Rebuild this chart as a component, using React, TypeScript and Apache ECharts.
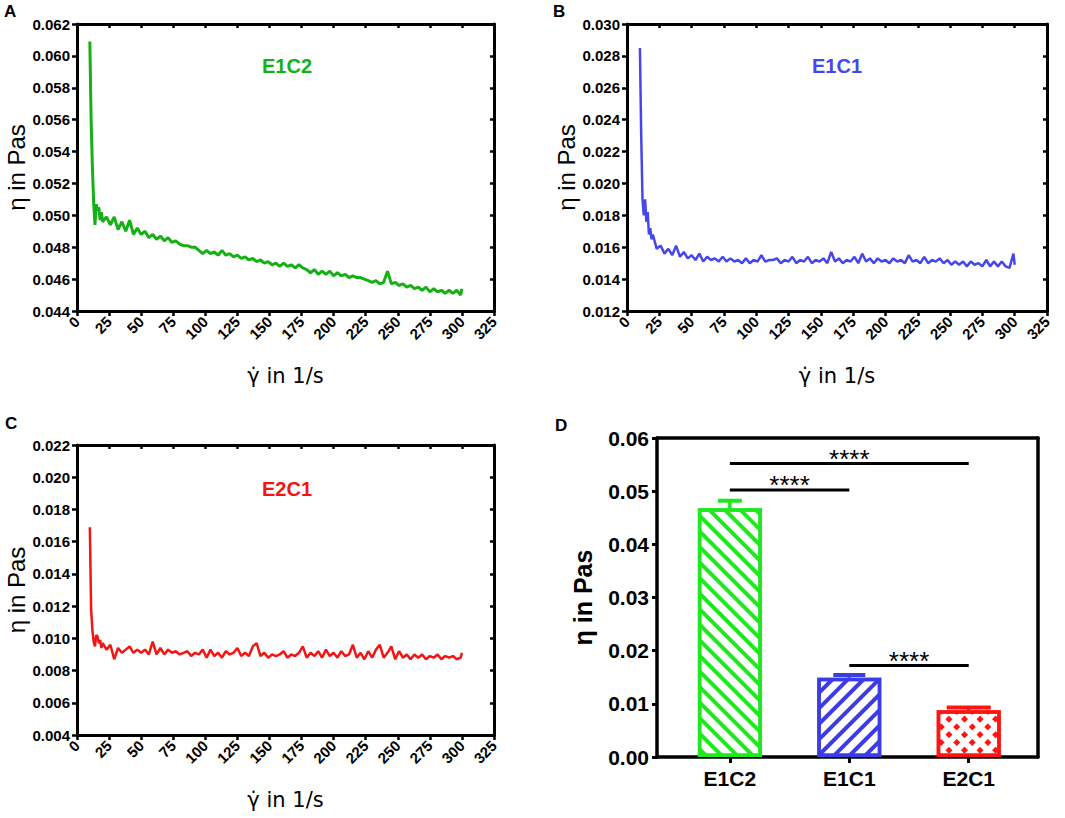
import { useEffect, useRef } from "react";
import * as echarts from "echarts";

// ---------- data ----------
const shearRate = [
  10, 11, 12, 13, 14, 15, 16, 17, 18, 19, 20,
  23, 26, 29, 32, 35, 38, 41, 44, 47, 50,
  53, 56, 59, 62, 65, 68, 71, 74, 77, 80,
  83, 86, 89, 92, 95, 98, 101, 104, 107, 110,
  113, 116, 119, 122, 125, 128, 131, 134, 137, 140,
  143, 146, 149, 152, 155, 158, 161, 164, 167, 170,
  173, 176, 179, 182, 185, 188, 191, 194, 197, 200,
  203, 206, 209, 212, 215, 218, 221, 224, 227, 230,
  233, 236, 239, 242, 245, 248, 251, 254, 257, 260,
  263, 266, 269, 272, 275, 278, 281, 284, 287, 290,
  293, 296, 299, 300,
];

const viscE1C2 = [
  0.0609, 0.056, 0.053, 0.0508, 0.0494, 0.0507, 0.0503, 0.0505, 0.0497, 0.0502, 0.0496,
  0.0499, 0.0494, 0.0499, 0.0491, 0.0496, 0.049, 0.0497, 0.0488, 0.0492, 0.0488,
  0.049, 0.0486, 0.0488, 0.0485, 0.0487, 0.0484, 0.0486, 0.0483, 0.0484, 0.0482,
  0.0481, 0.0481, 0.048, 0.048, 0.0478, 0.0476, 0.0478, 0.0476, 0.0477, 0.0475,
  0.0478, 0.0475, 0.0476, 0.0474, 0.0475, 0.0473, 0.0474, 0.0472, 0.0473, 0.0471,
  0.0472, 0.047, 0.0471, 0.0469, 0.047, 0.0468, 0.047, 0.0468, 0.0469, 0.0467,
  0.0469, 0.0467, 0.0466, 0.0464, 0.0466, 0.0463, 0.0465, 0.0463, 0.0465, 0.0462,
  0.0464, 0.0462, 0.0463, 0.0461, 0.0462, 0.0461, 0.0461, 0.046, 0.0459, 0.0458,
  0.0459, 0.0457, 0.0458, 0.0465, 0.0457, 0.0458, 0.0456, 0.0457, 0.0455, 0.0456,
  0.0454, 0.0455, 0.0453, 0.0455, 0.0452, 0.0454, 0.0452, 0.0453, 0.0451, 0.0453,
  0.0451, 0.0453, 0.045, 0.0454,
];

const viscE1C1 = [
  0.0285, 0.023, 0.019, 0.018, 0.019, 0.0176, 0.0182, 0.0168, 0.0172, 0.0165, 0.0168,
  0.0159, 0.0161, 0.0156, 0.0159, 0.0155, 0.0161, 0.0154, 0.0157, 0.0153, 0.0155,
  0.0152, 0.0156, 0.0151, 0.0154, 0.0152, 0.0153, 0.0151, 0.0154, 0.0151, 0.0153,
  0.0151, 0.0152, 0.015, 0.0153, 0.015, 0.0152, 0.0151, 0.0155, 0.0151, 0.0152,
  0.0152, 0.0153, 0.015, 0.0152, 0.0151, 0.0154, 0.015, 0.0152, 0.0151, 0.0154,
  0.015, 0.0152, 0.0151, 0.0153, 0.015, 0.0157, 0.0151, 0.0153, 0.015, 0.0152,
  0.0151, 0.0154, 0.015, 0.0156, 0.0151, 0.0153, 0.015, 0.0153, 0.0151, 0.0152,
  0.015, 0.0153, 0.0151, 0.0152, 0.015, 0.0155, 0.0151, 0.0152, 0.015, 0.0154,
  0.015, 0.0152, 0.0151, 0.0153, 0.015, 0.0152, 0.0149, 0.0151, 0.0149, 0.0151,
  0.0148, 0.0151, 0.0149, 0.015, 0.0148, 0.0152, 0.0148, 0.0151, 0.0148, 0.0151,
  0.0148, 0.0147, 0.0156, 0.0149,
];

const viscE2C1 = [
  0.0169, 0.0118, 0.0105, 0.0098, 0.0095, 0.0102, 0.0101, 0.0097, 0.0099, 0.0094, 0.0097,
  0.0093, 0.0096, 0.0087, 0.0094, 0.0091, 0.0093, 0.0095, 0.0091, 0.0093, 0.0091,
  0.0093, 0.009, 0.0098, 0.009, 0.0094, 0.009, 0.0093, 0.0091, 0.0092, 0.009,
  0.0091, 0.0092, 0.0089, 0.0091, 0.009, 0.0093, 0.0088, 0.0093, 0.0089, 0.0091,
  0.0088, 0.0092, 0.009, 0.0091, 0.0094, 0.0089, 0.0091, 0.0089, 0.0095, 0.0097,
  0.0089, 0.0091, 0.0088, 0.009, 0.0089, 0.009, 0.0092, 0.0088, 0.009, 0.0089,
  0.0091, 0.0095, 0.0088, 0.0091, 0.0089, 0.0092, 0.0088, 0.0093, 0.0089, 0.0091,
  0.0088, 0.0092, 0.0089, 0.009, 0.0096, 0.0088, 0.0091, 0.0087, 0.0092, 0.0088,
  0.0093, 0.0096, 0.0088, 0.0091, 0.0095, 0.0087, 0.0092, 0.0088, 0.009, 0.0087,
  0.009, 0.0088, 0.009, 0.0087, 0.0089, 0.0088, 0.009, 0.0087, 0.0089, 0.0088,
  0.0089, 0.0087, 0.0088, 0.0091,
];

const xRange = [0, 325];
const xStep = 25;
const yRangeA = [0.044, 0.062];
const yRangeB = [0.012, 0.03];
const yRangeC = [0.004, 0.022];
const yStepLine = 0.002;

const barCategories = ["E1C2", "E1C1", "E2C1"];
const barMeans = [0.0468, 0.0149, 0.0088];
const barErrors = [0.0014, 0.0005, 0.0005];
const barRange = [0, 0.06];
const barStep = 0.01;

// significance brackets: [from category #, to category #, height]
const sigFrom = [1, 1, 2];
const sigTo = [2, 3, 3];
const sigHeight = [0.0502, 0.0552, 0.0172];
const sigLabel = ["****", "****", "****"];

// ---------- styles ----------
const FONT = "'Liberation Sans', Arial, Helvetica, sans-serif";
const GAMMA_FONT = "'DejaVu Sans', sans-serif";
const lineColors = ["#14b014", "#4646ec", "#f41414"];
const barColors = ["#1ee81e", "#3c3ce6", "#ff1414"];
const capWidths = [24, 32, 44];
const barDecals = [
  { symbol: "rect", symbolSize: 1, dashArrayX: [1, 0], dashArrayY: [4, 7], rotation: Math.PI / 4, color: barColors[0] },
  { symbol: "rect", symbolSize: 1, dashArrayX: [1, 0], dashArrayY: [4, 7], rotation: -Math.PI / 4, color: barColors[1] },
  { symbol: "rect", symbolSize: 1, dashArrayX: [5, 6], dashArrayY: [5, 6], rotation: Math.PI / 4, color: barColors[2] },
];

function lineAxes(gi: number, yr: number[]) {
  const xb = {
    type: "value",
    gridIndex: gi,
    position: "bottom",
    min: xRange[0],
    max: xRange[1],
    interval: xStep,
    axisLine: { show: true, onZero: false, lineStyle: { color: "#000", width: 3 } },
    axisTick: { show: true, inside: false, length: 5, lineStyle: { color: "#000", width: 2.5 } },
    axisLabel: {
      rotate: 45,
      margin: 8,
      fontSize: 15,
      fontWeight: "bold",
      color: "#000",
      fontFamily: FONT,
      showMinLabel: true,
      showMaxLabel: true,
    },
    splitLine: { show: false },
    name: "γ̇ in 1/s",
    nameLocation: "middle",
    nameGap: 54,
    nameTextStyle: { fontSize: 21, color: "#000", fontFamily: GAMMA_FONT },
  };
  const xt = {
    type: "value",
    gridIndex: gi,
    position: "top",
    min: xRange[0],
    max: xRange[1],
    interval: xStep,
    axisLine: { show: true, onZero: false, lineStyle: { color: "#000", width: 3 } },
    axisTick: { show: true, inside: true, length: 4, lineStyle: { color: "#000", width: 2.5 } },
    axisLabel: { show: false },
    splitLine: { show: false },
  };
  const yl = {
    type: "value",
    gridIndex: gi,
    position: "left",
    min: yr[0],
    max: yr[1],
    interval: yStepLine,
    axisLine: { show: true, onZero: false, lineStyle: { color: "#000", width: 3 } },
    axisTick: { show: true, inside: false, length: 5, lineStyle: { color: "#000", width: 2.5 } },
    axisLabel: {
      margin: 7,
      fontSize: 15,
      fontWeight: "bold",
      color: "#000",
      fontFamily: FONT,
      showMinLabel: true,
      showMaxLabel: true,
      formatter: (v: number) => v.toFixed(3),
    },
    splitLine: { show: false },
    name: "η in Pas",
    nameLocation: "middle",
    nameGap: 49,
    nameTextStyle: { fontSize: 24, color: "#000", fontFamily: FONT },
  };
  const yr2 = {
    type: "value",
    gridIndex: gi,
    position: "right",
    min: yr[0],
    max: yr[1],
    interval: yStepLine,
    axisLine: { show: true, onZero: false, lineStyle: { color: "#000", width: 3 } },
    axisTick: { show: true, inside: true, length: 4, lineStyle: { color: "#000", width: 2.5 } },
    axisLabel: { show: false },
    splitLine: { show: false },
  };
  return { x: [xb, xt], y: [yl, yr2] };
}

function buildOption() {
  const a = lineAxes(0, yRangeA);
  const b = lineAxes(1, yRangeB);
  const c = lineAxes(2, yRangeC);

  const dX = {
    type: "value",
    gridIndex: 3,
    position: "bottom",
    min: 0.39,
    max: 3.58,
    axisLine: { show: true, onZero: false, lineStyle: { color: "#000", width: 3.5 } },
    axisTick: { show: true, inside: false, length: 6, customValues: [1, 2, 3], lineStyle: { color: "#000", width: 3 } },
    axisLabel: {
      customValues: [1, 2, 3],
      margin: 11,
      fontSize: 21,
      fontWeight: "bold",
      color: "#000",
      fontFamily: FONT,
      formatter: (v: number) => barCategories[Math.round(v) - 1] ?? "",
    },
    splitLine: { show: false },
  };
  const dXTop = {
    type: "value",
    gridIndex: 3,
    position: "top",
    min: 0.39,
    max: 3.58,
    axisLine: { show: true, onZero: false, lineStyle: { color: "#000", width: 3.5 } },
    axisTick: { show: false },
    axisLabel: { show: false },
    splitLine: { show: false },
  };
  const dY = {
    type: "value",
    gridIndex: 3,
    position: "left",
    min: barRange[0],
    max: barRange[1],
    interval: barStep,
    axisLine: { show: true, onZero: false, lineStyle: { color: "#000", width: 3.5 } },
    axisTick: { show: true, inside: false, length: 5, lineStyle: { color: "#000", width: 3 } },
    axisLabel: {
      margin: 8,
      fontSize: 21,
      fontWeight: "bold",
      color: "#000",
      fontFamily: FONT,
      showMinLabel: true,
      showMaxLabel: true,
      formatter: (v: number) => v.toFixed(2),
    },
    splitLine: { show: false },
    name: "η in Pas",
    nameLocation: "middle",
    nameGap: 62,
    nameTextStyle: { fontSize: 25, fontWeight: "bold", color: "#000", fontFamily: FONT },
  };
  const dYRight = {
    type: "value",
    gridIndex: 3,
    position: "right",
    min: barRange[0],
    max: barRange[1],
    interval: barStep,
    axisLine: { show: true, onZero: false, lineStyle: { color: "#000", width: 3.5 } },
    axisTick: { show: false },
    axisLabel: { show: false },
    splitLine: { show: false },
  };

  const lineSeries = (xi: number, vals: number[], color: string, width: number) => ({
    type: "line",
    xAxisIndex: xi,
    yAxisIndex: xi,
    data: shearRate.map((x, i) => [x, vals[i]]),
    showSymbol: false,
    symbol: "none",
    lineStyle: { color, width },
    itemStyle: { color },
    z: 3,
  });

  const letter = (t: string, x: number, y: number) => ({
    type: "text",
    x,
    y,
    style: { text: t, font: `bold 17px ${FONT}`, fill: "#000", textAlign: "left", textVerticalAlign: "top", align: "left", verticalAlign: "top" },
  });
  const inTitle = (t: string, x: number, y: number, color: string) => ({
    type: "text",
    x,
    y,
    style: { text: t, font: `bold 20px ${FONT}`, fill: color, textAlign: "center", textVerticalAlign: "middle", align: "center", verticalAlign: "middle" },
  });

  return {
    animation: false,
    backgroundColor: "#fff",
    grid: [
      { left: 77, top: 24, width: 417, height: 287 },
      { left: 627, top: 24, width: 420, height: 287 },
      { left: 77, top: 445, width: 417, height: 290 },
      { left: 657, top: 438, width: 381, height: 319 },
    ],
    xAxis: [a.x[0], a.x[1], b.x[0], b.x[1], c.x[0], c.x[1], dX, dXTop],
    yAxis: [a.y[0], a.y[1], b.y[0], b.y[1], c.y[0], c.y[1], dY, dYRight],
    graphic: [
      letter("A", 4, 3),
      letter("B", 553, 3),
      letter("C", 5, 415),
      letter("D", 555, 417),
      inTitle("E1C2", 287, 66, lineColors[0]),
      inTitle("E1C1", 837, 66, lineColors[1]),
      inTitle("E2C1", 287, 489, lineColors[2]),
    ],
    series: [
      lineSeries(0, viscE1C2, lineColors[0], 3),
      lineSeries(2, viscE1C1, lineColors[1], 2.5),
      lineSeries(4, viscE2C1, lineColors[2], 2.5),
      {
        type: "bar",
        xAxisIndex: 6,
        yAxisIndex: 6,
        barWidth: 64,
        data: barMeans.map((m, i) => ({
          value: [i + 1, m],
          itemStyle: { color: "#fff", borderColor: barColors[i], borderWidth: 3.5, decal: barDecals[i] },
        })),
        z: 2,
      },
      {
        type: "custom",
        xAxisIndex: 6,
        yAxisIndex: 6,
        data: barMeans.map((m, i) => [i + 1, m, barErrors[i]]),
        encode: { x: 0, y: 1 },
        z: 3,
        renderItem: (params: any, api: any) => {
          const x = api.value(0);
          const m = api.value(1);
          const e = api.value(2);
          const p0 = api.coord([x, m]);
          const p1 = api.coord([x, m + e]);
          const col = barColors[params.dataIndex];
          const w = capWidths[params.dataIndex];
          return {
            type: "group",
            children: [
              { type: "line", shape: { x1: p0[0], y1: p0[1], x2: p1[0], y2: p1[1] }, style: { stroke: col, lineWidth: 3.5 } },
              { type: "line", shape: { x1: p1[0] - w / 2, y1: p1[1], x2: p1[0] + w / 2, y2: p1[1] }, style: { stroke: col, lineWidth: 4 } },
            ],
          };
        },
      },
      {
        type: "custom",
        xAxisIndex: 6,
        yAxisIndex: 6,
        data: sigFrom.map((f, i) => [f, sigTo[i], sigHeight[i]]),
        encode: { x: [0, 1], y: 2 },
        z: 4,
        renderItem: (params: any, api: any) => {
          const y = api.value(2);
          const p1 = api.coord([api.value(0), y]);
          const p2 = api.coord([api.value(1), y]);
          return {
            type: "group",
            children: [
              { type: "line", shape: { x1: p1[0], y1: p1[1], x2: p2[0], y2: p2[1] }, style: { stroke: "#000", lineWidth: 3 } },
              {
                type: "text",
                x: (p1[0] + p2[0]) / 2,
                y: p1[1] - 5,
                style: {
                  text: sigLabel[params.dataIndex],
                  font: `26px ${FONT}`,
                  fill: "#000",
                  textAlign: "center",
                  textVerticalAlign: "middle",
                  align: "center",
                  verticalAlign: "middle",
                },
              },
            ],
          };
        },
      },
    ],
  };
}

export default function App() {
  const ref = useRef<HTMLDivElement>(null);
  useEffect(() => {
    document.body.style.margin = "0";
    const chart = echarts.init(ref.current as HTMLDivElement, null, { renderer: "svg" });
    chart.setOption(buildOption() as any);
    return () => chart.dispose();
  }, []);
  return <div ref={ref} style={{ width: 1065, height: 818, background: "#fff" }} />;
}
